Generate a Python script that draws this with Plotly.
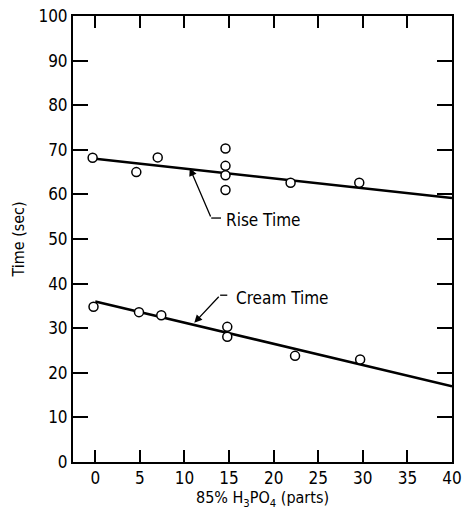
import plotly.graph_objects as go

# Data
rise_x = [-0.3, 4.6, 7.0, 14.6, 14.6, 14.6, 14.6, 21.9, 29.6]
rise_y = [68.2, 65.0, 68.3, 70.3, 66.4, 64.3, 61.0, 62.6, 62.6]
cream_x = [-0.2, 4.9, 7.4, 14.8, 14.8, 22.4, 29.7]
cream_y = [34.8, 33.6, 32.9, 30.3, 28.1, 23.8, 23.0]
rise_fit_x = [0, 40]
rise_fit_y = [68.0, 59.2]
cream_fit_x = [0, 40]
cream_fit_y = [36.0, 17.0]
x_ticks = [0, 5, 10, 15, 20, 25, 30, 35, 40]
y_ticks = [0, 10, 20, 30, 40, 50, 60, 70, 80, 90, 100]

FONT = "DejaVu Sans Condensed, Liberation Sans Narrow, sans-serif"

fig = go.Figure()
fig.add_trace(go.Scatter(x=rise_fit_x, y=rise_fit_y, mode="lines",
                         line=dict(color="black", width=2.5), showlegend=False))
fig.add_trace(go.Scatter(x=cream_fit_x, y=cream_fit_y, mode="lines",
                         line=dict(color="black", width=2.5), showlegend=False))
marker = dict(symbol="circle", size=9, color="white", line=dict(color="black", width=1.5))
fig.add_trace(go.Scatter(x=rise_x, y=rise_y, mode="markers", marker=marker, showlegend=False))
fig.add_trace(go.Scatter(x=cream_x, y=cream_y, mode="markers", marker=marker, showlegend=False))

# leader lines (elbows)
fig.add_trace(go.Scatter(x=[13.0, 14.1], y=[54.7, 54.7], mode="lines",
                         line=dict(color="black", width=1.3), showlegend=False, hoverinfo="skip"))
fig.add_trace(go.Scatter(x=[14.0, 14.8], y=[37.4, 37.4], mode="lines",
                         line=dict(color="black", width=1.3), showlegend=False, hoverinfo="skip"))

# arrows
fig.add_annotation(x=10.6, y=65.9, ax=13.0, ay=54.7, axref="x", ayref="y", xref="x", yref="y",
                   text="", showarrow=True, arrowhead=2, arrowsize=1.2, arrowwidth=1.3, arrowcolor="black")
fig.add_annotation(x=11.1, y=31.2, ax=14.0, ay=37.4, axref="x", ayref="y", xref="x", yref="y",
                   text="", showarrow=True, arrowhead=2, arrowsize=1.2, arrowwidth=1.3, arrowcolor="black")
fig.add_annotation(x=14.4, y=54.3, text="Rise Time", showarrow=False, xanchor="left", yanchor="middle",
                   font=dict(family=FONT, size=17, color="black"))
fig.add_annotation(x=15.6, y=36.8, text="Cream Time", showarrow=False, xanchor="left", yanchor="middle",
                   font=dict(family=FONT, size=17, color="black"))

axis_common = dict(showline=True, linecolor="black", linewidth=2, mirror="allticks",
                   ticks="inside", tickcolor="black", tickwidth=1.5, showgrid=False, zeroline=False,
                   automargin=False,
                   tickfont=dict(family=FONT, size=17, color="black"))
fig.update_xaxes(range=[-2.5, 40], tickvals=x_ticks, ticklen=12,
                 title=dict(text="85% H<sub>3</sub>PO<sub>4</sub> (parts)", standoff=4,
                            font=dict(family=FONT, size=16, color="black")),
                 **axis_common)
fig.update_yaxes(range=[0, 100], tickvals=y_ticks, ticklen=15,
                 title=dict(text="Time (sec)", standoff=10,
                            font=dict(family=FONT, size=16, color="black")),
                 **axis_common)
fig.update_layout(width=464, height=516, margin=dict(l=73, r=12, t=16, b=54),
                  plot_bgcolor="white", paper_bgcolor="white")
fig.write_html("out.html")
